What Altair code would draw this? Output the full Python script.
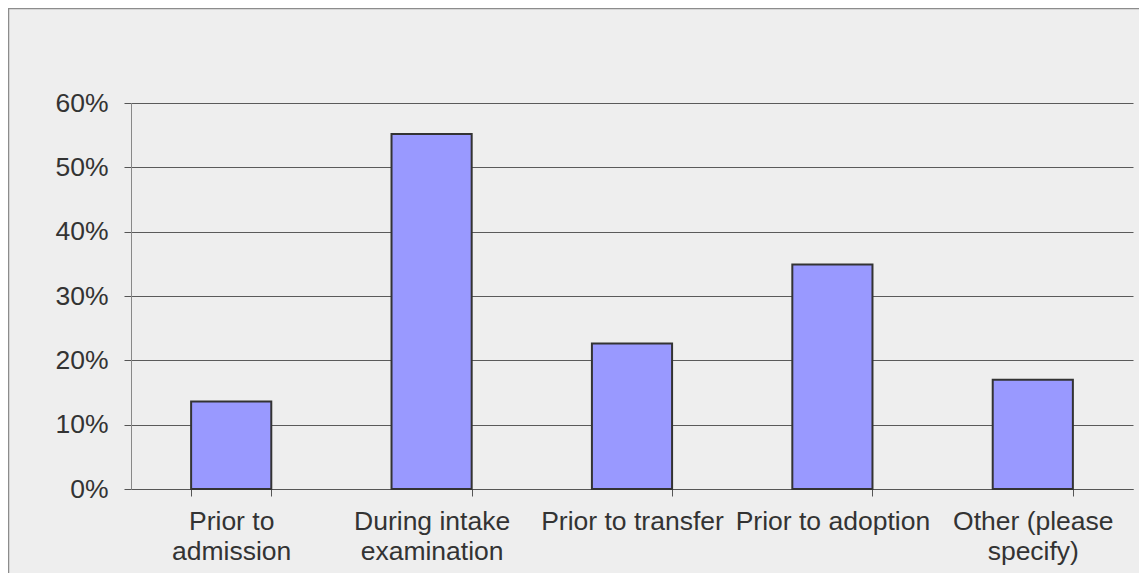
import altair as alt
import pandas as pd

# Data
categories = [
    "Prior to|admission",
    "During intake|examination",
    "Prior to transfer",
    "Prior to adoption",
    "Other (please|specify)",
]
shares = [0.136, 0.552, 0.226, 0.349, 0.170]
y_ticks = [0.0, 0.1, 0.2, 0.3, 0.4, 0.5, 0.6]

df = pd.DataFrame({"category": categories, "share": shares})

W, H = 1002, 386
FONT = "Liberation Sans"
TEXT = "#333333"

frame = alt.Chart(pd.DataFrame({"k": [0]})).mark_rect(
    fillOpacity=0, stroke="#8c8c8c", strokeWidth=1.5
).encode(
    x=alt.value(-122.5),
    x2=alt.value(W + 40),
    y=alt.value(-94.5),
    y2=alt.value(H + 200),
)

bars = alt.Chart(df).mark_bar(
    fill="#9999ff", stroke="#333333", strokeWidth=2
).encode(
    x=alt.X(
        "category:N",
        sort=categories,
        scale=alt.Scale(paddingInner=0.6, paddingOuter=0.3),
        axis=alt.Axis(
            title=None,
            labelAngle=0,
            labelExpr="split(datum.label, '|')",
            labelFont=FONT,
            labelFontSize=26.5,
            labelColor=TEXT,
            labelPadding=12,
            labelLineHeight=30,
            labelBaseline="top",
            labelLimit=400,
            tickBand="extent",
            tickSize=7,
            tickColor="#555555",
            domainColor="#555555",
            grid=False,
        ),
    ),
    y=alt.Y(
        "share:Q",
        scale=alt.Scale(domain=[0, 0.6], nice=False),
        axis=alt.Axis(
            title=None,
            format=".0%",
            values=y_ticks,
            labelFont=FONT,
            labelFontSize=26.5,
            labelColor=TEXT,
            labelPadding=16,
            tickSize=7,
            tickColor="#555555",
            domainColor="#888888",
            gridColor="#5a5a5a",
            gridWidth=1,
            gridOpacity=1,
        ),
    ),
)

chart = alt.layer(frame, bars).properties(
    width=W,
    height=H,
    autosize=alt.AutoSizeParams(type="none"),
    padding={"left": 123, "top": 95, "right": 6, "bottom": 84},
    background="#eeeeee",
).configure_view(strokeWidth=0)

chart.save("out.html", embed_options={"renderer": "svg", "actions": False})
